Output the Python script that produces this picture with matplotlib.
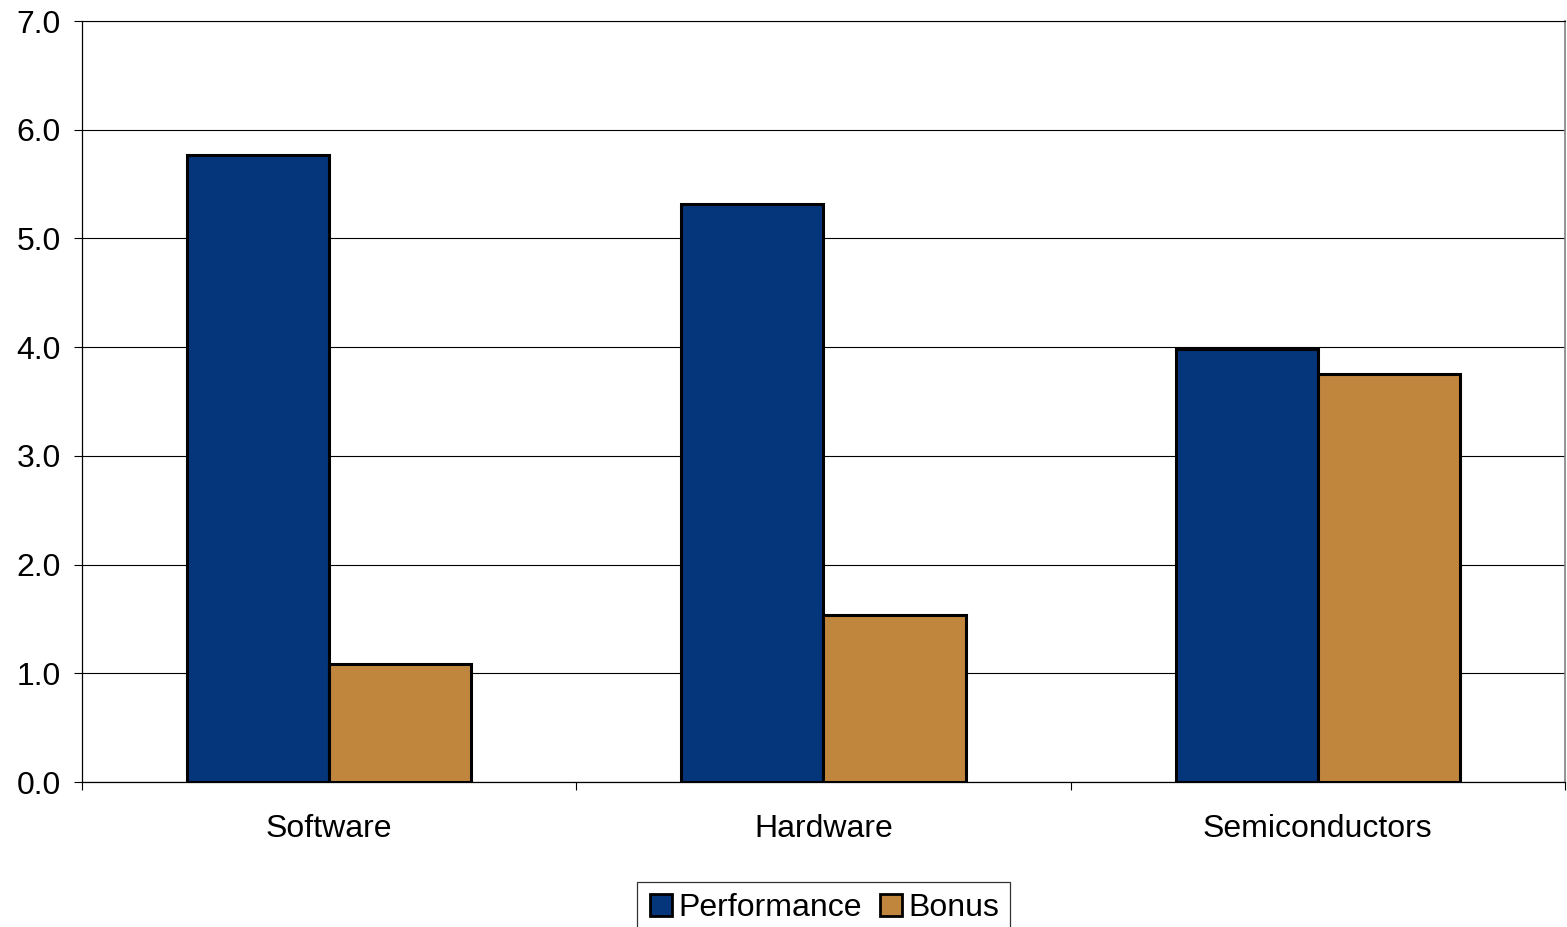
import numpy as np
import matplotlib
matplotlib.use("Agg")
import matplotlib.pyplot as plt
from matplotlib.lines import Line2D

plt.rcParams['font.family'] = ['Liberation Sans', 'DejaVu Sans']

categories = ["Software", "Hardware", "Semiconductors"]
performance = [5.77, 5.32, 3.98]
bonus = [1.09, 1.54, 3.75]
series_names = ["Performance", "Bonus"]
yticks = [0.0, 1.0, 2.0, 3.0, 4.0, 5.0, 6.0, 7.0]

blue = "#05357A"
tan = "#C1863D"

fig = plt.figure(figsize=(15.67, 9.27), dpi=100)
ax = fig.add_axes([0.0523, 0.1564, 0.9464, 0.8209])

x = np.arange(len(categories))
w = 0.2875
ax.bar(x - w / 2, performance, w, color=blue, edgecolor="black", linewidth=2.2, zorder=3)
ax.bar(x + w / 2, bonus, w, color=tan, edgecolor="black", linewidth=2.2, zorder=3)

ax.set_xlim(-0.5, 2.5)
ax.set_ylim(0, 7)
ax.set_yticks(yticks)
ax.set_yticklabels([f"{v:.1f}" for v in yticks])
ax.yaxis.grid(True, color="black", linewidth=0.8, zorder=0)

ax.set_xticks(x)
ax.set_xticklabels(categories)
ax.set_xticks(np.arange(-0.5, 3.0, 1.0), minor=True)
ax.tick_params(axis='x', which='major', length=0, pad=23, labelsize=23)
ax.tick_params(axis='x', which='minor', length=6, width=0.8, direction='out')
ax.tick_params(axis='y', length=6, width=0.8, pad=9, labelsize=23)

for side in ["left", "bottom"]:
    ax.spines[side].set_color("black")
    ax.spines[side].set_linewidth(0.9)
ax.spines["top"].set_color("black")
ax.spines["top"].set_linewidth(0.8)
ax.spines["right"].set_color("#808080")
ax.spines["right"].set_linewidth(1.2)

handles = [
    Line2D([], [], marker="s", linestyle="none", markersize=16,
           markerfacecolor=c, markeredgecolor="black", markeredgewidth=2.0)
    for c in (blue, tan)
]
leg = fig.legend(handles, series_names, loc="upper center", ncol=2,
                 bbox_to_anchor=(0.5255, 0.0485), fontsize=23, frameon=True,
                 fancybox=False, handlelength=0.8, handletextpad=0.15,
                 columnspacing=0.5, borderpad=0.35, borderaxespad=0)
leg.get_frame().set_edgecolor("black")
leg.get_frame().set_linewidth(0.9)

fig.savefig("out.png", dpi=100)
